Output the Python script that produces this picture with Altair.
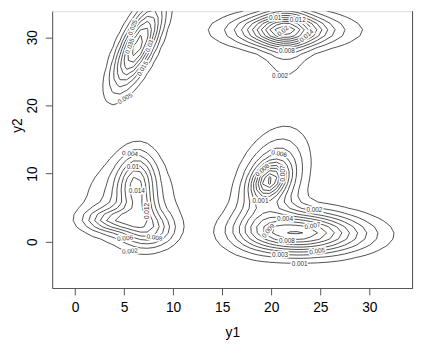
import numpy as np
import pandas as pd
import altair as alt

# ---- axes ----
x_ticks = [0, 5, 10, 15, 20, 25, 30]
y_ticks = [0, 10, 20, 30]
x_domain = [-2.33, 34.4]
y_domain = [-6.8, 33.82]

# ---- kde2d-style evaluation grid ----
grid_n = 50
grid_x_lim = [-0.97, 33.03]
grid_y_lim = [-5.03, 39.23]

# ---- Gaussian bumps (one density per group) ----
comp_group = ["LL", "LL", "LL", "LL", "LL",
              "LR", "LR", "LR", "LR",
              "TR", "TR", "TR",
              "TL"]
comp_mx  = [6.2, 5.6, 7.0, 7.5, 3.8,   19.8, 20.0, 22.0, 26.5,   21.3, 21.5, 21.5,   6.4]
comp_my  = [8.7, 6.0, 5.3, 1.8, 3.2,   9.0, 8.8, 1.4, 1.0,       31.0, 31.0, 31.0,   28.8]
comp_sx  = [1.3, 3.2, 0.9, 1.8, 2.0,   1.1, 2.2, 3.7, 3.8,       2.8, 5.0, 1.6,      1.7]
comp_sy  = [3.0, 4.2, 1.4, 1.8, 1.2,   1.6, 4.4, 2.1, 2.0,       1.5, 1.8, 4.8,      4.2]
comp_rho = [0.1, 0.0, 0.0, 0.0, 0.0,   0.3, 0.35, 0.0, 0.0,      0.0, 0.0, 0.0,      0.72]
comp_h   = [0.011, 0.005, 0.003, 0.009, 0.0088,
            0.006, 0.0055, 0.0083, 0.003,
            0.013, 0.006, 0.005,
            0.043]

levels_LL = [0.002, 0.004, 0.006, 0.008, 0.010, 0.012, 0.014]
levels_LR = [0.001, 0.002, 0.003, 0.004, 0.005, 0.006, 0.007, 0.008, 0.009, 0.010, 0.011, 0.012]
levels_TR = [0.002, 0.004, 0.006, 0.008, 0.010, 0.012, 0.014, 0.016, 0.018, 0.020, 0.022]
levels_TL = [0.005, 0.010, 0.015, 0.020, 0.025, 0.030, 0.035, 0.040]
group_levels = {"LL": levels_LL, "LR": levels_LR, "TR": levels_TR, "TL": levels_TL}

# ---- contour labels ----
label_text = ["0.004", "0.01", "0.014", "0.012", "0.006", "0.008", "0.002",
              "0.006", "0.008", "0.007", "0.001", "0.002", "0.004", "0.007", "0.009",
              "0.008", "0.003", "0.005", "0.001",
              "0.01", "0.012", "0.02", "0.014", "0.008", "0.002",
              "0.025", "0.035", "0.03", "0.015", "0.005"]
label_x = [5.6, 5.9, 6.3, 7.3, 5.1, 8.1, 5.6,
           20.8, 19.1, 21.2, 18.9, 24.4, 21.4, 24.2, 19.7,
           21.6, 20.9, 24.7, 22.9,
           20.4, 22.7, 21.2, 23.6, 21.6, 20.9,
           5.9, 5.6, 7.6, 6.9, 5.1]
label_y = [12.9, 11.0, 7.4, 4.5, 0.5, 0.6, -1.4,
           12.9, 10.5, 10.0, 5.9, 4.6, 3.3, 2.3, 1.6,
           0.1, -1.9, -1.4, -3.3,
           32.8, 32.5, 30.9, 30.2, 27.9, 24.3,
           31.4, 28.7, 28.7, 25.4, 21.0]
label_angle = [5, 0, 0, 270, 355, 10, 355,
               10, 320, 270, 0, 0, 0, 350, 310,
               0, 0, 350, 0,
               0, 0, 320, 320, 0, 0,
               290, 290, 290, 300, 330]


def density(group, gx, gy):
    X, Y = np.meshgrid(gx, gy)
    Z = np.zeros_like(X)
    for g, mx, my, sx, sy, r, h in zip(comp_group, comp_mx, comp_my, comp_sx,
                                       comp_sy, comp_rho, comp_h):
        if g != group:
            continue
        a = (X - mx) / sx
        b = (Y - my) / sy
        q = (a * a - 2 * r * a * b + b * b) / (1 - r * r)
        Z += h * np.exp(-0.5 * q)
    return Z


def march(Z, gx, gy, level):
    out = []
    ny, nx = Z.shape
    for j in range(ny - 1):
        for i in range(nx - 1):
            cx = [gx[i], gx[i + 1], gx[i + 1], gx[i]]
            cy = [gy[j], gy[j], gy[j + 1], gy[j + 1]]
            v = [Z[j, i], Z[j, i + 1], Z[j + 1, i + 1], Z[j + 1, i]]
            above = [vv >= level for vv in v]
            if all(above) or not any(above):
                continue
            pts = {}
            for k in range(4):
                k2 = (k + 1) % 4
                if above[k] != above[k2]:
                    t = (level - v[k]) / (v[k2] - v[k])
                    pts[k] = (cx[k] + t * (cx[k2] - cx[k]), cy[k] + t * (cy[k2] - cy[k]))
            ks = sorted(pts)
            if len(ks) == 2:
                out.append(pts[ks[0]] + pts[ks[1]])
            else:
                center = sum(v) / 4.0
                if (center >= level) == above[0]:
                    pairs = [(0, 1), (2, 3)]
                else:
                    pairs = [(3, 0), (1, 2)]
                for a, b in pairs:
                    out.append(pts[a] + pts[b])
    return out


gx = np.linspace(grid_x_lim[0], grid_x_lim[1], grid_n)
gy = np.linspace(grid_y_lim[0], grid_y_lim[1], grid_n)
rows = []
for grp, lv in group_levels.items():
    Z = density(grp, gx, gy)
    for level in lv:
        for s in march(Z, gx, gy, level):
            rows.append({"x": s[0], "y": s[1], "x2": s[2], "y2": s[3], "level": level, "group": grp})
seg_df = pd.DataFrame(rows)

lab_df = pd.DataFrame({"text": label_text, "x": label_x, "y": label_y, "angle": label_angle})

FONT = "Liberation Sans"
x_enc = alt.X("x:Q", scale=alt.Scale(domain=x_domain, nice=False, zero=False),
              axis=alt.Axis(values=x_ticks, title="y1", grid=False, format="d",
                            tickSize=7, tickColor="#555", domainColor="#555",
                            labelFont=FONT, labelFontSize=14, labelColor="black",
                            labelPadding=6, labelFlush=False,
                            titleFont=FONT, titleFontSize=14, titleFontWeight="normal",
                            titleColor="black", titleY=49, titleBaseline="alphabetic"))
y_enc = alt.Y("y:Q", scale=alt.Scale(domain=y_domain, nice=False, zero=False),
              axis=alt.Axis(values=y_ticks, title="y2", grid=False, format="d",
                            tickSize=7, tickColor="#555", domainColor="#555",
                            labelFont=FONT, labelFontSize=14, labelColor="black",
                            labelAngle=270, labelAlign="center", labelBaseline="alphabetic",
                            labelPadding=9, labelFlush=False,
                            titleFont=FONT, titleFontSize=14, titleFontWeight="normal",
                            titleColor="black", titleAngle=270, titleX=-31, titleY=116,
                            titleAlign="center", titleBaseline="alphabetic"))

lines = alt.Chart(seg_df).mark_rule(color="#222", strokeWidth=0.8, clip=True).encode(
    x=x_enc, y=y_enc, x2="x2:Q", y2="y2:Q")

halo = alt.Chart(lab_df).mark_text(fontSize=6.5, font=FONT, color="white", stroke="white",
                                   strokeWidth=3, clip=True).encode(
    x=x_enc, y=y_enc, text="text:N", angle=alt.Angle("angle:Q", scale=None))
labels = alt.Chart(lab_df).mark_text(fontSize=6.5, font=FONT, color="#333", clip=True).encode(
    x=x_enc, y=y_enc, text="text:N", angle=alt.Angle("angle:Q", scale=None))

frame_right = alt.Chart(pd.DataFrame({"k": [0]})).mark_rule(color="#555").encode(
    x=alt.value(367), y=alt.value(0), y2=alt.value(282))

chart = alt.layer(lines, halo, labels, frame_right).properties(
    width=367, height=282,
    padding={"left": 45, "top": 0, "right": 27, "bottom": 65},
    autosize=alt.AutoSizeParams(type="none"),
).configure_view(stroke=None).configure(background="white")

chart.save("out.html", embed_options={"renderer": "svg", "actions": False})
